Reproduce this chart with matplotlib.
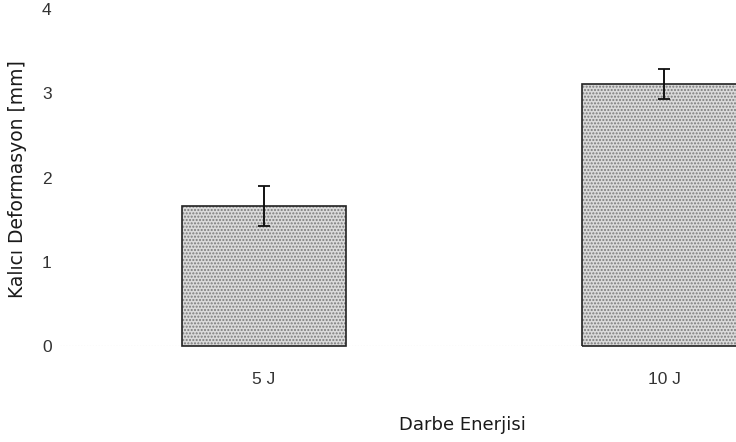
import matplotlib
matplotlib.use('Agg')
from matplotlib import pyplot as plt

# values
energies = ['5 J', '10 J']
deformation = [1.66, 3.11]
deformation_err = [0.24, 0.18]
y_ticks = [0, 1, 2, 3, 4]

plt.rcParams['font.family'] = ['Liberation Sans', 'DejaVu Sans']
plt.rcParams['hatch.linewidth'] = 1.0
plt.rcParams['hatch.color'] = '#7a7a7a'

fig = plt.figure(figsize=(7.36, 4.42), dpi=100)
ax = fig.add_axes([60 / 736, 96 / 442, 676 / 736, 337 / 442])

x = list(range(len(energies)))

# stippled fill
ax.bar(x, deformation, width=0.41, color='#dadada', edgecolor='#7a7a7a',
       hatch='.....', linewidth=0, zorder=2)
# outline
ax.bar(x, deformation, width=0.41, facecolor='none', edgecolor='#222222',
       linewidth=1.2, zorder=3, clip_on=False)
ax.errorbar(x, deformation, yerr=deformation_err, fmt='none', ecolor='#111111',
            elinewidth=1.4, capsize=4.5, capthick=1.3, zorder=4)

ax.axhline(0, color='#bbbbbb', linestyle=':', linewidth=0.8, zorder=1)

ax.set_xlim(-0.51, 1.18)
ax.set_ylim(0, 4)
ax.set_xticks(x)
ax.set_xticklabels(energies)
ax.set_yticks(y_ticks)
ax.tick_params(axis='both', length=0, labelsize=12.5, labelcolor='#333333')
ax.tick_params(axis='x', pad=19)
ax.tick_params(axis='y', pad=6)
for side in ax.spines.values():
    side.set_visible(False)

ax.set_xlabel('Darbe Enerjisi', fontsize=13, color='#1a1a1a',
              family='DejaVu Sans')
ax.xaxis.set_label_coords(0.595, -0.208)
ax.set_ylabel('Kalıcı Deformasyon [mm]', fontsize=13.5, color='#1a1a1a',
              family='DejaVu Sans')
ax.yaxis.set_label_coords(-0.049, 0.495)

fig.savefig('out.png', dpi=100)
